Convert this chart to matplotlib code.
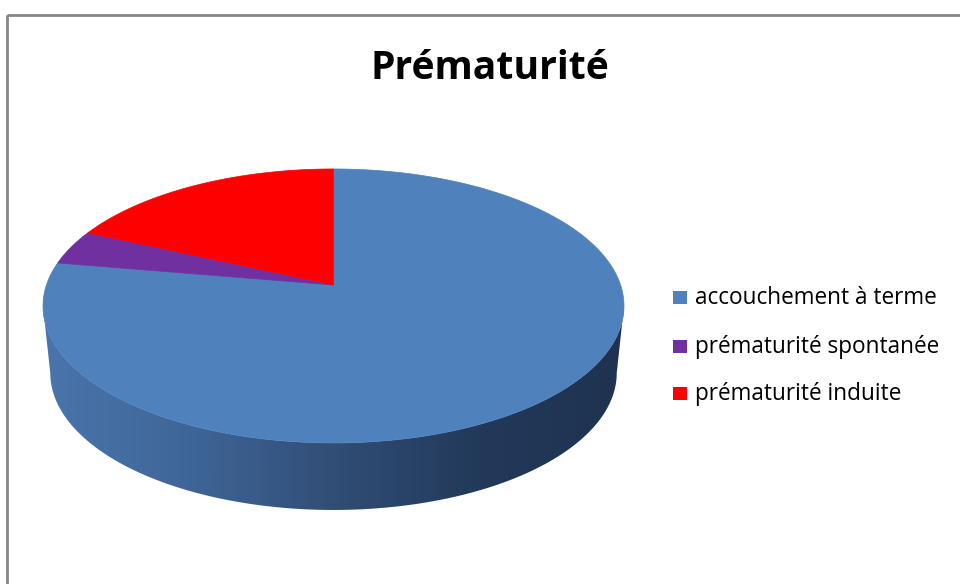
import numpy as np
import matplotlib
matplotlib.use("Agg")
import matplotlib.pyplot as plt
from matplotlib.patches import Polygon, Rectangle
from matplotlib.colors import LinearSegmentedColormap

# ---- data ----
categories = ["accouchement à terme", "prématurité spontanée", "prématurité induite"]
values = [77.7, 4.1, 18.2]
colors = ["#4f81bd", "#7030a0", "#ff0000"]
title = "Prématurité"

# ---- layout (pixel coordinates) ----
W, H = 960, 584
fig = plt.figure(figsize=(W / 100, H / 100), dpi=100)
ax = fig.add_axes([0, 0, 1, 1])
ax.set_xlim(0, W)
ax.set_ylim(H, 0)
ax.axis("off")

cx, cy = 333.5, 285.0     # apex of the pie on screen
a, b = 290.5, 137.0       # half width / half height of top ellipse
k = 0.153                 # perspective factor
depth = 67.0
c = b * (1 - k * k)
sx = a * np.sqrt(1 - k * k)


def proj(theta, scale=1.0, dy=0.0):
    x = np.sin(theta)
    y = np.cos(theta)
    w = 1 + k * y
    return cx + scale * sx * x / w, cy + dy - c * y / w


# ---- side (front) with gradient ----
t_r = np.arccos(-k)
t_l = 2 * np.pi - t_r
ts = np.linspace(t_r, t_l, 300)
tx, ty = proj(ts)
bx, by = proj(ts[::-1], scale=0.975, dy=depth)
side = np.column_stack([np.concatenate([tx, bx]), np.concatenate([ty, by])])
side_poly = Polygon(side, closed=True, facecolor="none", edgecolor="none")
ax.add_patch(side_poly)
cmap = LinearSegmentedColormap.from_list(
    "side",
    [(0.0, "#4a75ab"), (0.25, "#3f6698"), (0.5, "#314e76"),
     (0.75, "#22395a"), (1.0, "#1f3350")],
)
x0, x1 = side[:, 0].min(), side[:, 0].max()
y0, y1 = side[:, 1].min(), side[:, 1].max()
grad = np.linspace(0, 1, 512)[None, :].repeat(4, axis=0)
im = ax.imshow(grad, cmap=cmap, extent=(x0, x1, y1, y0), aspect="auto",
               interpolation="bilinear", zorder=1)
im.set_clip_path(side_poly)

# ---- top face slices (clockwise from 12 o'clock) ----
total = sum(values)
start = 0.0
for v, col in zip(values, colors):
    end = start + v / total * 2 * np.pi
    th = np.linspace(start, end, max(int(400 * v / total), 20))
    px, py = proj(th)
    pts = np.column_stack([np.concatenate([[cx], px]), np.concatenate([[cy], py])])
    ax.add_patch(Polygon(pts, closed=True, facecolor=col, edgecolor=col,
                         linewidth=0.5, zorder=2))
    start = end

# ---- title ----
ax.text(490, 79, title, ha="center", va="baseline", fontsize=28.2,
        fontweight="bold", family=["Open Sans", "DejaVu Sans"], color="#000000")

# ---- legend ----
leg_y = [297.5, 346.5, 393.5]
for lab, col, yy in zip(categories, colors, leg_y):
    ax.add_patch(Rectangle((673, yy - 6.5), 14, 13, facecolor=col,
                           edgecolor="none", zorder=3))
    ax.text(695, yy + 6.5, lab, ha="left", va="baseline", fontsize=16.3,
            family=["Open Sans", "DejaVu Sans"], color="#000000")

# ---- chart border ----
ax.add_patch(Rectangle((7, 15), 1000, 1000, facecolor="none",
                       edgecolor="#878787", linewidth=2, zorder=4))

fig.savefig("out.png", dpi=100)
